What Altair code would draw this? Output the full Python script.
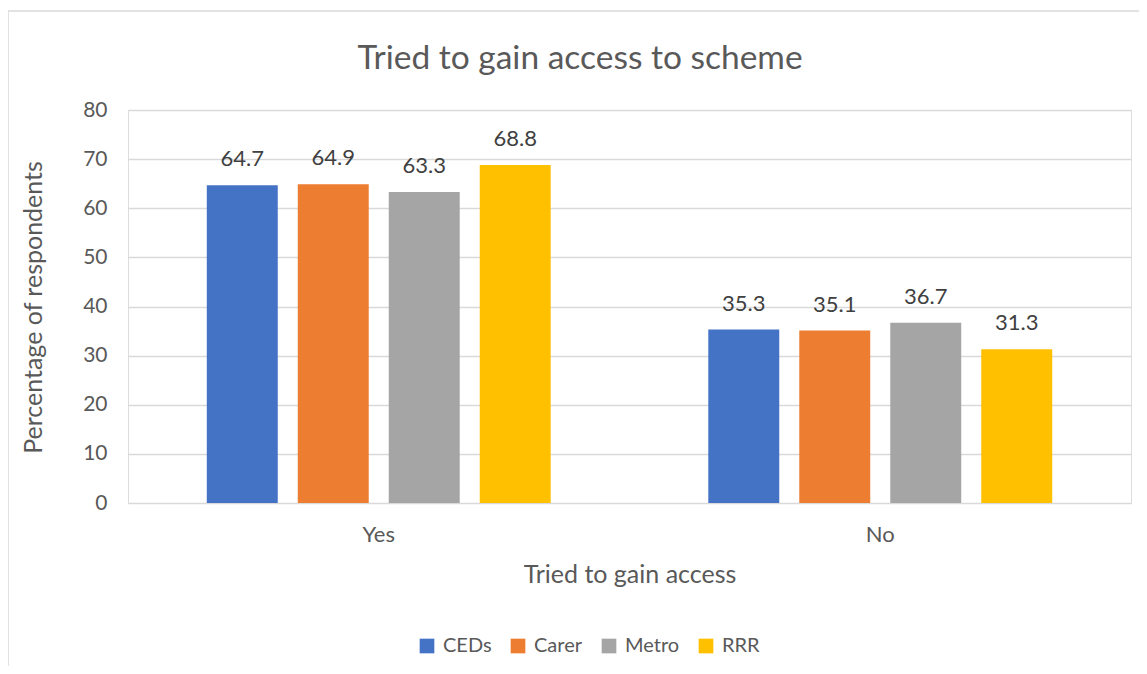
import altair as alt
import pandas as pd

chart_title = ["Tried to gain access to scheme"]
answers = ["Yes", "No"]
groups = ["CEDs", "Carer", "Metro", "RRR"]
ceds = [64.7, 35.3]
carer = [64.9, 35.1]
metro = [63.3, 36.7]
rrr = [68.8, 31.3]
colors = ["#4472C4", "#ED7D31", "#A5A5A5", "#FFC000"]

rows = []
for i, a in enumerate(answers):
    for g, vals in zip(groups, [ceds, carer, metro, rrr]):
        rows.append({"Answer": a, "Group": g, "Value": vals[i]})
df = pd.DataFrame(rows)

FONT = "Lato"
TXT = "#595959"

x = alt.X("Answer:N", sort=answers,
          scale=alt.Scale(paddingInner=0, paddingOuter=0),
          axis=alt.Axis(title="Tried to gain access", labelAngle=0, labelFontSize=22,
                        labelColor=TXT, labelFont=FONT, labelPadding=21,
                        titleFontSize=25, titleColor=TXT, titleFont=FONT,
                        titleFontWeight="normal", titleY=71, titleBaseline="middle",
                        domain=False, ticks=False))
xo = alt.XOffset("Group:N", sort=groups,
                 scale=alt.Scale(paddingInner=0.22, paddingOuter=0.866))
y = alt.Y("Value:Q", scale=alt.Scale(domain=[0, 80]),
          axis=alt.Axis(title="Percentage of respondents", values=list(range(0, 81, 10)),
                        labelFontSize=21, labelColor=TXT, labelFont=FONT, labelPadding=21,
                        titleFontSize=25, titleColor=TXT, titleFont=FONT,
                        titleFontWeight="normal", titleX=-95, titleY=197,
                        titleBaseline="middle", titleAlign="center", titleAngle=270,
                        domain=False, ticks=False, grid=True, gridColor="#d9d9d9",
                        gridWidth=1.5))

color = alt.Color("Group:N", sort=groups,
                  scale=alt.Scale(domain=groups, range=colors),
                  legend=alt.Legend(title=None, orient="none", direction="horizontal",
                                    legendX=289, legendY=526, symbolType="square",
                                    symbolSize=215, symbolStrokeWidth=0,
                                    labelFontSize=20, labelColor=TXT, labelFont=FONT,
                                    columnPadding=16, labelOffset=6))

frame = alt.Chart(pd.DataFrame({"a": [0]})).mark_rect(
    fill=None, stroke="#d9d9d9", strokeWidth=1.5
).encode(x=alt.value(-120), x2=alt.value(1040), y=alt.value(-99), y2=alt.value(620))

title_mark = alt.Chart(pd.DataFrame({"t": chart_title})).mark_text(
    fontSize=33.5, color=TXT, font=FONT, align="center", baseline="alphabetic"
).encode(x=alt.value(452), y=alt.value(-41), text="t:N")

bars = alt.Chart(df).mark_bar().encode(x=x, xOffset=xo, y=y, color=color)
labels = alt.Chart(df).mark_text(dy=-26, fontSize=22, color="#404040", font=FONT).encode(
    x=alt.X("Answer:N", sort=answers), xOffset=alt.XOffset("Group:N", sort=groups),
    y="Value:Q", text=alt.Text("Value:Q", format=".1f"))

chart = alt.layer(frame, title_mark, bars, labels).properties(
    width=1003, height=393,
    padding={"left": 120, "top": 102, "right": 8, "bottom": 163},
    autosize="none",
).configure_view(stroke=None).configure(background="white")

chart.save("out.html", embed_options={"renderer": "svg", "actions": False})
